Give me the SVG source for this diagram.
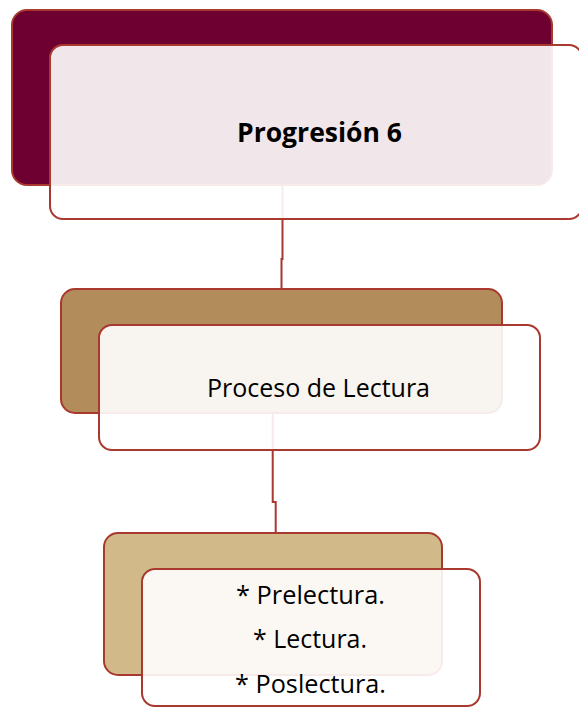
<svg xmlns="http://www.w3.org/2000/svg" width="579" height="707" viewBox="0 0 579 707">
<style>
.box{stroke:#A9382F;stroke-width:2}
.front{fill:#FFFFFF;fill-opacity:0.9}
.conn{fill:none;stroke:#A9382F;stroke-width:2}
text{font-family:"Open Sans","Liberation Sans",sans-serif;fill:#000;font-size:26px}
.b{font-weight:bold}
</style>
<rect width="579" height="707" fill="#FFFFFF"/>
<g id="connectors">
<path class="conn" d="M282.5 185 V259 H281.5 V290"/>
<path class="conn" d="M272.7 413 V502 H275.7 V534"/>
</g>
<g id="node-progresion">
<rect class="box" x="12" y="10" width="540" height="175" rx="15" fill="#6D0030"/>
<rect class="box front" x="50" y="45" width="532" height="174" rx="13"/>
<text class="b" x="237" y="142" textLength="165" lengthAdjust="spacingAndGlyphs">Progresión 6</text>
</g>
<g id="node-proceso">
<rect class="box" x="61" y="289" width="441" height="124" rx="14" fill="#B38C5C"/>
<rect class="box front" x="99" y="325" width="441" height="125" rx="13"/>
<text x="207" y="397" textLength="223" lengthAdjust="spacingAndGlyphs">Proceso de Lectura</text>
</g>
<g id="node-etapas">
<rect class="box" x="104" y="533" width="338" height="142" rx="14" fill="#D2B98A"/>
<rect class="box front" x="142" y="569" width="338" height="137" rx="13"/>
<text x="236" y="604" textLength="149" lengthAdjust="spacingAndGlyphs">* Prelectura.</text>
<text x="253" y="648" textLength="114" lengthAdjust="spacingAndGlyphs">* Lectura.</text>
<text x="235" y="693" textLength="151" lengthAdjust="spacingAndGlyphs">* Poslectura.</text>
</g>
</svg>
